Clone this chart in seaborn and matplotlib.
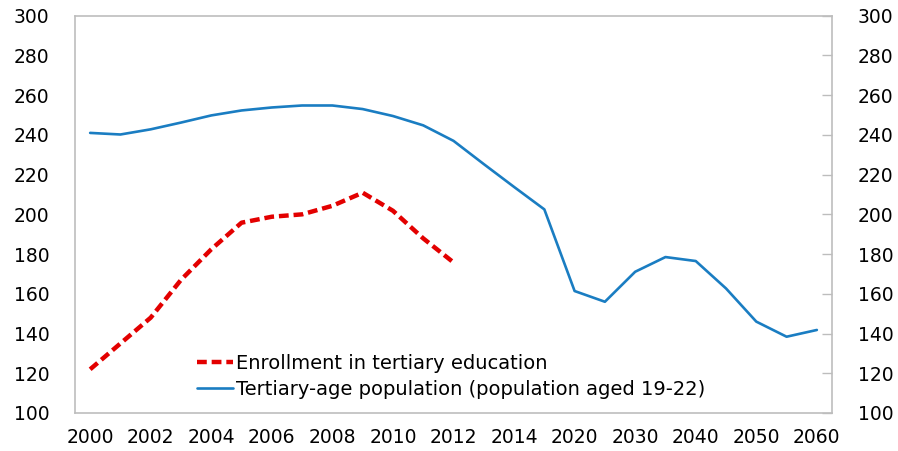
import numpy as np
import pandas as pd
import matplotlib
matplotlib.use('Agg')
import matplotlib.pyplot as plt
import seaborn as sns

years = ['2000', '2001', '2002', '2003', '2004', '2005', '2006', '2007',
         '2008', '2009', '2010', '2011', '2012', '2013', '2014', '2015',
         '2020', '2025', '2030', '2035', '2040', '2045', '2050', '2055', '2060']
enrollment = [122, 135, 148, 167, 182.4, 195.8, 198.8, 200, 204.3, 210.9,
              201.8, 187.9, 175.8]
population = [241, 240.2, 242.8, 246.2, 249.8, 252.3, 253.8, 254.8, 254.8,
              253, 249.5, 244.8, 237, 225.3, 213.8, 202.5, 161.4, 156, 171.1,
              178.5, 176.5, 162.7, 146, 138.4, 141.8]
tick_labels = ['2000', '2002', '2004', '2006', '2008', '2010', '2012', '2014',
               '2020', '2030', '2040', '2050', '2060']

red = '#e30000'
blue = '#1a7dc2'
grey = '#bdbdbd'

sns.set_style('white')
plt.rcParams['font.family'] = ['DejaVu Sans']
plt.rcParams['text.color'] = 'black'

df_pop = pd.DataFrame({'pos': np.arange(len(population)), 'value': population})
df_enr = pd.DataFrame({'pos': np.arange(len(enrollment)), 'value': enrollment})

fig = plt.figure(figsize=(8.98, 4.51), dpi=100)
ax = fig.add_axes([75 / 898, 1 - 413 / 451, (832 - 75) / 898, (413 - 15.7) / 451])

sns.lineplot(data=df_enr, x='pos', y='value', ax=ax, color=red, linewidth=3.2,
             label='Enrollment in tertiary education')
ax.lines[-1].set_dashes((2.2, 1.1))
sns.lineplot(data=df_pop, x='pos', y='value', ax=ax, color=blue, linewidth=1.9,
             label='Tertiary-age population (population aged 19-22)')

ax.set_xlim(-0.5, len(years) - 0.5)
ax.set_ylim(100, 300)
ax.set_yticks(np.arange(100, 301, 20))
ax.set_xticks(np.arange(-0.5, len(years)), minor=False)
ax.set_xticklabels([])
label_pos = [years.index(t) for t in tick_labels]
ax.set_xticks(label_pos, minor=True)
ax.set_xticklabels(tick_labels, minor=True)
ax.tick_params(axis='x', which='major', direction='in', length=7, color=grey, width=1)
ax.tick_params(axis='x', which='minor', length=0, pad=11, labelsize=13.5,
               labelcolor='black')
ax.tick_params(axis='y', direction='in', length=7, color=grey, width=1,
               labelsize=13.5, pad=18.5, labelright=True, right=True,
               labelcolor='black')
ax.set_xlabel('')
ax.set_ylabel('')
for s in ax.spines.values():
    s.set_color(grey)
    s.set_linewidth(1.2)

ax.legend(loc='center left', bbox_to_anchor=(0.161, 0.092), frameon=False,
          fontsize=14, handlelength=1.85, handletextpad=0.16, labelspacing=0.38,
          borderaxespad=0, borderpad=0)

fig.savefig('out.png', dpi=100)
